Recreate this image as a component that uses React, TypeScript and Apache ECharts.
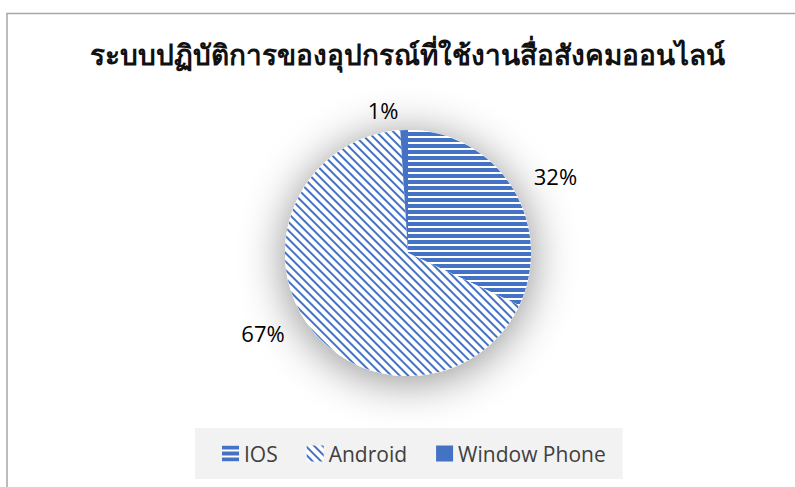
import React, { useEffect, useRef } from "react";
import * as echarts from "echarts";

const title = "ระบบปฏิบัติการของอุปกรณ์ที่ใช้งานสื่อสังคมออนไลน์";
const categories = ["IOS", "Android", "Window Phone"];
const values = [32, 67, 1];

const BLUE = "#4472C4";

export default function App() {
  const ref = useRef<HTMLDivElement>(null);
  useEffect(() => {
    if (!ref.current) return;
    const chart = echarts.init(ref.current, null, { renderer: "svg" });
    const styles = [
      {
        color: "#ffffff",
        decal: { symbol: "rect", symbolSize: 1, dashArrayX: [1, 0], dashArrayY: [4, 2], rotation: 0, color: BLUE },
      },
      {
        color: "#ffffff",
        decal: { symbol: "rect", symbolSize: 1, dashArrayX: [1, 0], dashArrayY: [1.3, 3.5], rotation: Math.PI / 4, color: BLUE },
      },
      {
        color: BLUE,
        decal: { symbol: "none" },
      },
    ];
    chart.setOption({
      animation: false,
      backgroundColor: "#ffffff",
      aria: { enabled: true, decal: { show: true } },
      title: {
        text: title,
        left: 402,
        textAlign: "center",
        top: 36,
        textStyle: { fontSize: 28, fontWeight: "bold", color: "#111111", fontFamily: "sans-serif" },
      },
      legend: {
        data: categories,
        left: 195,
        top: 428,
        backgroundColor: "#f2f2f2",
        padding: [15, 17, 15, 27],
        icon: "rect",
        itemWidth: 17,
        itemHeight: 16,
        itemGap: 29,
        textStyle: { fontSize: 21, color: "#404040", fontFamily: "Open Sans" },
      },
      graphic: [
        {
          type: "rect",
          shape: { x: 7, y: 13.5, width: 820, height: 520 },
          style: { fill: "none", stroke: "#a6a6a6", lineWidth: 1.5 },
          silent: true,
        },
      ],
      series: [
        {
          type: "pie",
          center: [408, 253],
          radius: 123,
          silent: true,
          z: 1,
          label: { show: false },
          labelLine: { show: false },
          itemStyle: {
            color: "#ffffff",
            shadowBlur: 45,
            shadowColor: "rgba(0,0,0,0.45)",
            shadowOffsetY: 5,
            decal: { symbol: "none" },
          },
          data: [{ value: 1, name: "_bg" }],
        },
        {
          type: "pie",
          center: [408, 253],
          radius: 123,
          startAngle: 90,
          clockwise: true,
          z: 2,
          label: {
            show: true,
            position: "outside",
            formatter: "{c}%",
            fontSize: 22,
            color: "#000000",
            fontFamily: "Open Sans",
          },
          labelLine: { show: false, length: 20, length2: 0 },
          data: categories.map((name, i) => ({
            name,
            value: values[i],
            itemStyle: { ...styles[i], borderWidth: 0 },
          })),
        },
      ],
    });
    return () => chart.dispose();
  }, []);
  return (
    <div
      ref={ref}
      style={{ position: "fixed", left: 0, top: 0, width: 795, height: 487 }}
    />
  );
}
